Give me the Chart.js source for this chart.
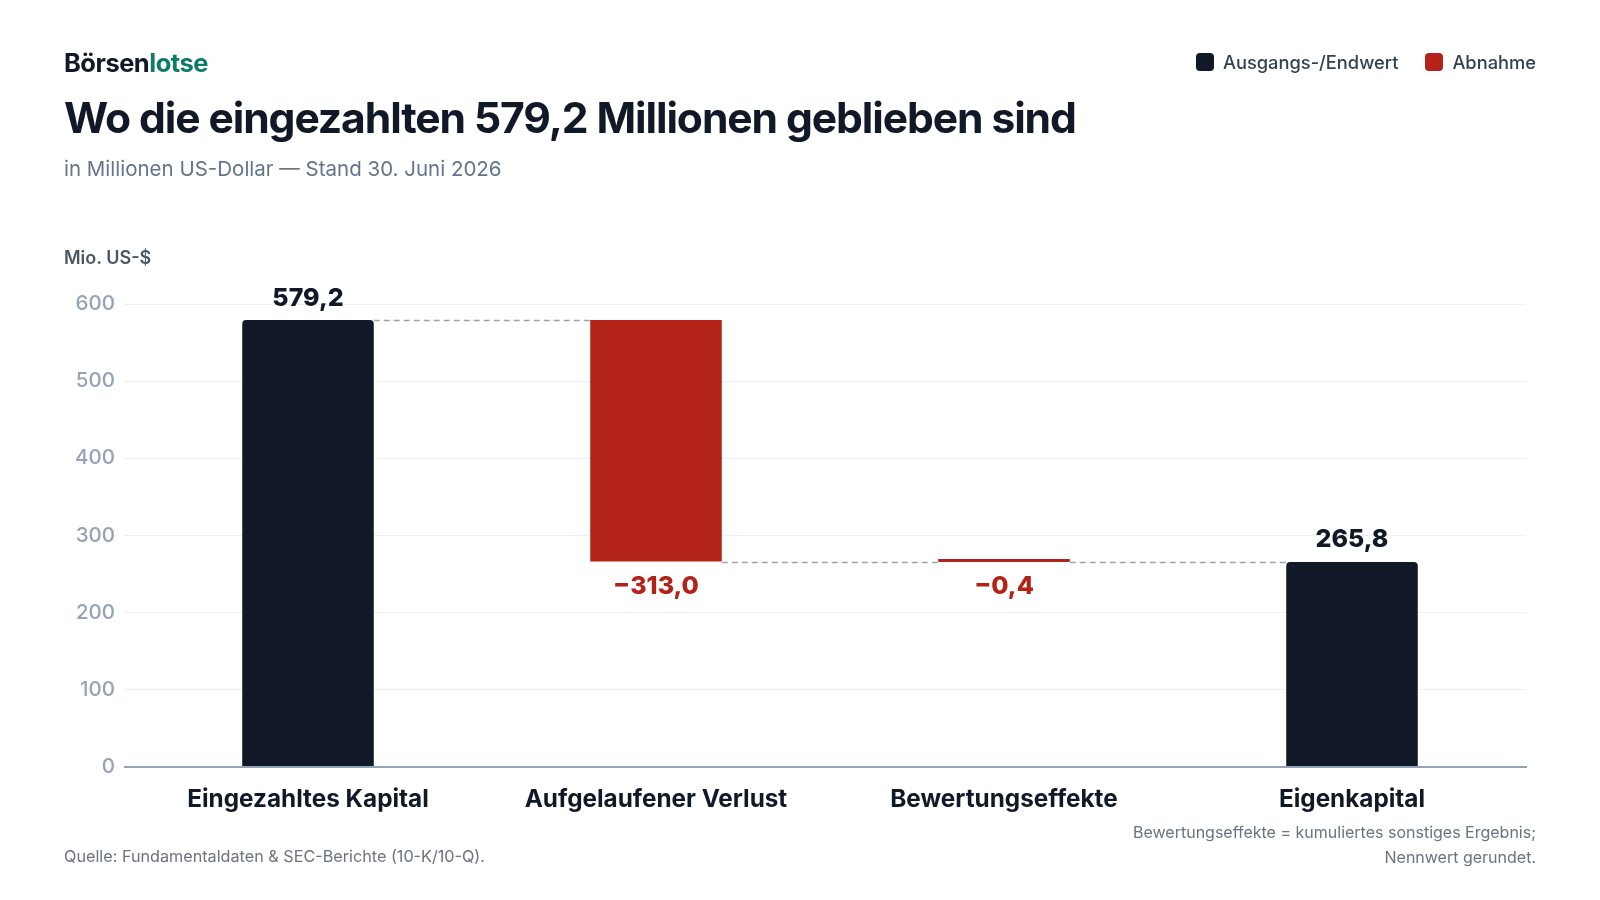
<!DOCTYPE html>
<html lang="de">
<head>
<meta charset="utf-8">
<script src="https://cdn.jsdelivr.net/npm/chart.js@4"></script>
<style>
  html,body{margin:0;padding:0;background:#fff;overflow:hidden;}
  body{width:1600px;height:900px;position:relative;font-family:Inter,"Noto Sans",sans-serif;}
  #wrap{position:absolute;left:0;top:0;width:1600px;height:900px;}
  #c{display:block;}
  .abs{position:absolute;white-space:nowrap;}
  #brand{left:64px;top:47px;font-size:25.5px;font-weight:700;color:#111827;letter-spacing:-0.5px;}
  #brand span{color:#0f7a68;}
  #title{left:64px;top:92px;font-size:42.6px;font-weight:700;color:#111827;letter-spacing:-1.1px;}
  #sub{left:64px;top:156px;font-size:20.5px;color:#64748b;}
  #legend{right:64px;top:51px;font-size:18.3px;font-weight:500;color:#334155;display:flex;gap:27px;}
  #legend .it{display:flex;align-items:center;gap:9px;}
  #legend .sw{width:18px;height:18px;border-radius:4px;display:inline-block;}
  #ytitle{left:64px;top:247px;font-size:18px;font-weight:600;color:#4b5563;}
  #src{left:64px;top:846px;font-size:16.2px;color:#6b7280;}
  #note{right:64px;top:820px;font-size:16px;color:#6b7280;text-align:right;line-height:24.5px;}
</style>
</head>
<body>
<div id="wrap"><canvas id="c" width="1600" height="900"></canvas></div>
<div class="abs" id="brand">Börsen<span>lotse</span></div>
<div class="abs" id="title">Wo die eingezahlten 579,2 Millionen geblieben sind</div>
<div class="abs" id="sub">in Millionen US-Dollar — Stand 30. Juni 2026</div>
<div class="abs" id="legend">
  <div class="it"><span class="sw" style="background:#111827"></span>Ausgangs-/Endwert</div>
  <div class="it"><span class="sw" style="background:#b42318"></span>Abnahme</div>
</div>
<div class="abs" id="ytitle">Mio. US-$</div>
<div class="abs" id="src">Quelle: Fundamentaldaten &amp; SEC-Berichte (10-K/10-Q).</div>
<div class="abs" id="note">Bewertungseffekte = kumuliertes sonstiges Ergebnis;<br>Nennwert gerundet.</div>
<script>
// ---- data ----
const categories = ["Eingezahltes Kapital", "Aufgelaufener Verlust", "Bewertungseffekte", "Eigenkapital"];
const flowFrom = [0, 579.2, 266.2, 0];
const flowTo = [579.2, 266.2, 265.8, 265.8];
const barKind = ["total", "decrease", "decrease", "total"];
const valueLabels = ["579,2", "−313,0", "−0,4", "265,8"];
const yTicks = [0, 100, 200, 300, 400, 500, 600];

const DARK = "#111827", RED = "#b42318", GRID = "#eceef2", AXIS = "#94a3b8";
const floating = categories.map((c, i) => [flowFrom[i], flowTo[i]]);

const overlay = {
  id: "overlay",
  afterDatasetsDraw(chart) {
    const ctx = chart.ctx;
    const meta = chart.getDatasetMeta(0);
    const y = chart.scales.y;
    ctx.save();
    // connectors
    ctx.strokeStyle = "#9ca3af";
    ctx.lineWidth = 1.5;
    ctx.setLineDash([6, 4]);
    for (let i = 0; i < categories.length - 1; i++) {
      const a = meta.data[i], b = meta.data[i + 1];
      const py = Math.round(y.getPixelForValue(flowTo[i])) + 0.5;
      ctx.beginPath();
      ctx.moveTo(a.x + a.width / 2, py);
      ctx.lineTo(b.x - b.width / 2, py);
      ctx.stroke();
    }
    ctx.setLineDash([]);
    // value labels
    ctx.font = "800 25px Inter, 'Noto Sans', sans-serif";
    ctx.textAlign = "center";
    ctx.textBaseline = "middle";
    meta.data.forEach((el, i) => {
      if (barKind[i] === "total") {
        ctx.fillStyle = DARK;
        ctx.fillText(valueLabels[i], el.x, y.getPixelForValue(Math.max(flowFrom[i], flowTo[i])) - 22);
      } else {
        ctx.fillStyle = RED;
        ctx.fillText(valueLabels[i], el.x, y.getPixelForValue(Math.min(flowFrom[i], flowTo[i])) + 25);
      }
    });
    ctx.restore();
  }
};

new Chart(document.getElementById("c"), {
  type: "bar",
  data: {
    labels: categories,
    datasets: [{
      data: floating,
      backgroundColor: barKind.map(k => k === "total" ? DARK : RED),
      borderRadius: barKind.map(k => k === "total" ? {topLeft: 4, topRight: 4, bottomLeft: 0, bottomRight: 0} : 0),
      borderSkipped: false,
      barPercentage: 0.75,
      categoryPercentage: 0.504,
      minBarLength: 3
    }]
  },
  options: {
    responsive: false,
    animation: false,
    layout: {padding: {left: 0, right: 74, top: 304, bottom: 0}},
    plugins: {legend: {display: false}, tooltip: {enabled: false}},
    scales: {
      x: {
        grid: {display: false, drawTicks: false},
        border: {color: AXIS, width: 2},
        ticks: {color: DARK, font: {family: "Inter", size: 24.3, weight: "700"}, padding: 18},
        afterFit(s) { s.height = 133; }
      },
      y: {
        min: 0, max: 600,
        afterBuildTicks(s) { s.ticks = yTicks.map(v => ({value: v})); },
        grid: {
          color: c => c.tick && c.tick.value === 0 ? AXIS : GRID,
          tickColor: c => c.tick && c.tick.value === 0 ? AXIS : GRID,
          lineWidth: c => c.tick && c.tick.value === 0 ? 2 : 1,
          drawTicks: true, tickLength: 10
        },
        border: {display: false},
        ticks: {color: AXIS, font: {family: "Inter", size: 20.5, weight: "500"}, padding: 9},
        afterFit(s) { s.width = 134; }
      }
    }
  },
  plugins: [overlay]
});
</script>
</body>
</html>
